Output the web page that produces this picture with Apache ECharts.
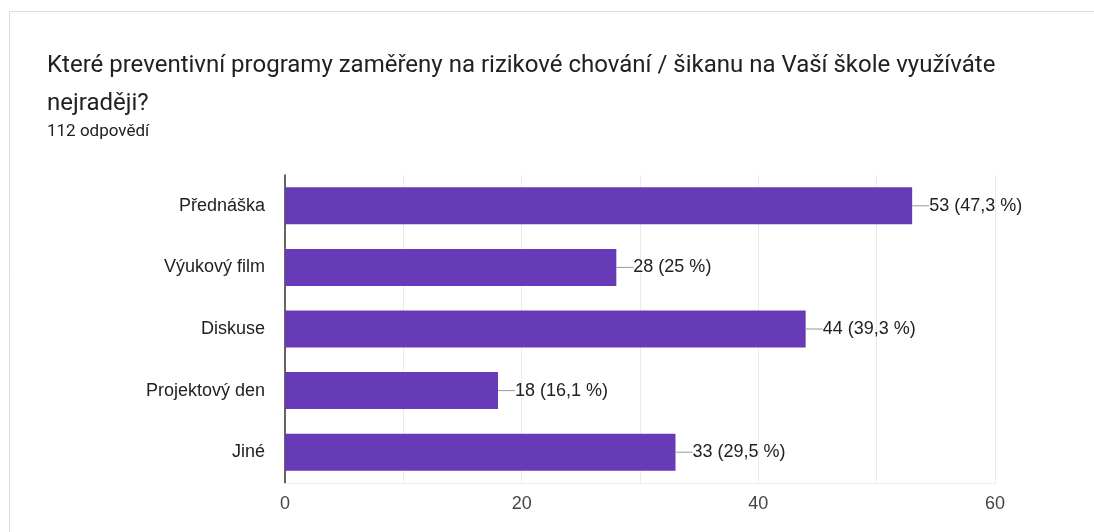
<!DOCTYPE html>
<html>
<head>
<meta charset="utf-8">
<script src="https://cdn.jsdelivr.net/npm/echarts@6/dist/echarts.min.js"></script>
<style>
html,body{margin:0;padding:0;background:#fff;}
#c{width:1094px;height:532px;}
</style>
</head>
<body>
<div id="c"></div>
<script>
const categories = ['Přednáška', 'Výukový film', 'Diskuse', 'Projektový den', 'Jiné'];
const counts = [53, 28, 44, 18, 33];
const percents = ['47,3', '25', '39,3', '16,1', '29,5'];
const xTicks = [0, 20, 40, 60];

const chart = echarts.init(document.getElementById('c'));
chart.setOption({
  animation: false,
  backgroundColor: '#fff',
  graphic: [
    {
      type: 'rect',
      shape: { x: 9.5, y: 11.5, width: 1200, height: 600 },
      style: { fill: '#fff', stroke: '#dadce0', lineWidth: 1 },
      z: -10
    },
    {
      type: 'text',
      left: 47, top: 47,
      style: {
        text: 'Které preventivní programy zaměřeny na rizikové chování / šikanu na Vaší škole využíváte\nnejraději?',
        font: '24px Roboto',
        lineHeight: 38,
        fill: '#202124'
      }
    },
    {
      type: 'text',
      left: 47, top: 123,
      style: {
        text: '112 odpovědí',
        font: '17px Roboto',
        fill: '#202124'
      }
    }
  ],
  grid: { left: 285, right: 99, top: 175, bottom: 49, containLabel: false },
  xAxis: {
    type: 'value',
    min: 0, max: 60, interval: 10,
    axisLine: { show: true, lineStyle: { color: '#ebebeb' } },
    axisTick: { show: false },
    splitLine: { show: true, lineStyle: { color: '#ebebeb', width: 1 } },
    axisLabel: {
      color: '#444',
      fontFamily: 'Arial, Liberation Sans',
      fontSize: 18,
      margin: 12,
      formatter: function (v) { return xTicks.indexOf(v) >= 0 ? String(v) : ''; }
    }
  },
  yAxis: {
    type: 'category',
    data: categories,
    inverse: true,
    axisLine: { show: true, lineStyle: { color: '#333', width: 1.5 } },
    axisTick: { show: false },
    axisLabel: {
      color: '#222',
      fontFamily: 'Arial, Liberation Sans',
      fontSize: 18,
      margin: 20
    }
  },
  series: [{
    type: 'bar',
    data: counts,
    barCategoryGap: '40%',
    itemStyle: { color: '#673ab7' },
    label: {
      show: true,
      position: 'right',
      distance: 0,
      formatter: function (p) {
        return '{l|}{t|' + counts[p.dataIndex] + ' (' + percents[p.dataIndex] + ' %)}';
      },
      rich: {
        l: { width: 17, height: 1, backgroundColor: '#999', verticalAlign: 'middle' },
        t: { color: '#222', fontFamily: 'Arial, Liberation Sans', fontSize: 18, verticalAlign: 'middle' }
      }
    }
  }]
});
</script>
</body>
</html>
